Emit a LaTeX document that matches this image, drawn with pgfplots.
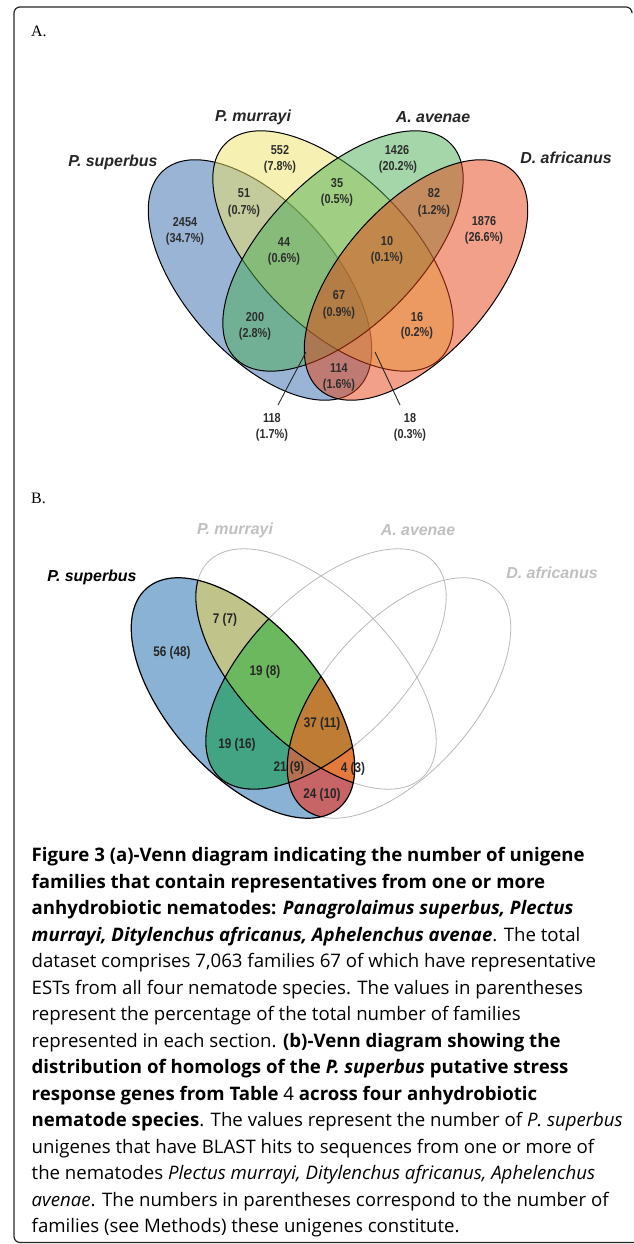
\documentclass[border=0pt]{standalone}
\usepackage{pgfplots}
\pgfplotsset{compat=1.18}
\usepackage{fontspec}
\setmainfont{Open Sans}
\newfontfamily\lsans{Liberation Sans}
\newfontfamily\nfont[FakeStretch=0.84]{Liberation Sans}
\newfontfamily\tserif{Liberation Serif}
\definecolor{bA}{RGB}{53,105,173}
\definecolor{yA}{RGB}{237,227,101}
\definecolor{gA}{RGB}{75,173,85}
\definecolor{rA}{RGB}{229,65,21}
\definecolor{bB}{RGB}{138,178,212}
\definecolor{byB}{RGB}{192,196,138}
\definecolor{bygB}{RGB}{108,184,94}
\definecolor{bgB}{RGB}{66,164,130}
\definecolor{allB}{RGB}{190,124,52}
\definecolor{bgrB}{RGB}{182,112,80}
\definecolor{byrB}{RGB}{228,122,60}
\definecolor{brB}{RGB}{198,100,102}
\definecolor{numgray}{RGB}{45,45,45}
\definecolor{lgray}{RGB}{185,185,185}
\definecolor{labgray}{RGB}{192,192,192}
\begin{document}
\begin{tikzpicture}
\begin{axis}[
  width=633bp, height=1244bp, scale only axis,
  xmin=0, xmax=633, ymin=0, ymax=1244,
  hide axis, clip=false,
]
% ---------- frame ----------
\draw[line width=1.2bp, rounded corners=6bp, black!85] (axis cs:632,1232) -- (axis cs:632,1237) -- (axis cs:14,1237) -- (axis cs:14,1.5) -- (axis cs:640,1.5);
\node[anchor=base west, inner sep=0pt, font=\tserif\fontsize{16}{18}\selectfont] at (axis cs:31,1207) {A.};
\node[anchor=base west, inner sep=0pt, font=\tserif\fontsize{16}{18}\selectfont] at (axis cs:31,740) {B.};

% ---------- Venn A ----------
\filldraw[fill=bA, fill opacity=0.5, draw=black, line width=1bp, rotate around={-48.6:(axis cs:260,964)}] (axis cs:260,964) ellipse [x radius=146bp, y radius=75bp];
\filldraw[fill=yA, fill opacity=0.5, draw=black, line width=1bp, rotate around={-45:(axis cs:333,993)}] (axis cs:333,993) ellipse [x radius=152bp, y radius=76bp];
\filldraw[fill=gA, fill opacity=0.5, draw=black, line width=1bp, rotate around={45:(axis cs:343,993)}] (axis cs:343,993) ellipse [x radius=152bp, y radius=76bp];
\filldraw[fill=rA, fill opacity=0.5, draw=black, line width=1bp, rotate around={48.6:(axis cs:416,964)}] (axis cs:416,964) ellipse [x radius=146bp, y radius=75bp];

\addplot[black!85, line width=0.9bp] coordinates {(306,892) (278,839)};
\addplot[black!85, line width=0.9bp] coordinates {(375,892) (400,839)};

\addplot[only marks, mark=none, point meta=explicit symbolic, nodes near coords,
  nodes near coords style={anchor=center, inner sep=0pt, text=numgray, font=\nfont\bfseries\fontsize{13}{15}\selectfont}]
  table[x=x, y=y, meta=c] {
x y c
185 1022 2454
280 1094 552
397 1094 1426
484 1023 1876
244 1051 51
337 1061 35
434 1051 82
284 1002 44
387 1003 10
339 949 67
255 927 200
417 927 16
339 876 114
272 826 118
410 826 18
};
\addplot[only marks, mark=none, point meta=explicit symbolic, nodes near coords={(\pgfplotspointmeta\%)},
  nodes near coords style={anchor=center, inner sep=0pt, text=numgray, font=\nfont\bfseries\fontsize{13}{15}\selectfont}]
  table[x=x, y=y, meta=p] {
x y p
185 1005 34.7
280 1077 7.8
398 1077 20.2
484 1006 26.6
244 1033 0.7
337 1044 0.5
434 1033 1.2
284 985 0.6
387 986 0.1
339 931 0.9
255 910 2.8
417 911 0.2
339 859 1.6
272 809 1.7
410 809 0.3
};

\node[font=\lsans\bfseries\itshape\fontsize{16}{18}\selectfont, text=black!85] at (axis cs:113,1082) {P. superbus};
\node[font=\lsans\bfseries\itshape\fontsize{16}{18}\selectfont, text=black!85] at (axis cs:253,1127) {P. murrayi};
\node[font=\lsans\bfseries\itshape\fontsize{16}{18}\selectfont, text=black!85] at (axis cs:433,1127) {A. avenae};
\node[font=\lsans\bfseries\itshape\fontsize{16}{18}\selectfont, text=black!85] at (axis cs:566,1086) {D. africanus};

% ---------- Venn B ----------
\draw[lgray, line width=0.8bp, rotate around={-45:(axis cs:316,575)}] (axis cs:316,575) ellipse [x radius=152bp, y radius=76bp];
\draw[lgray, line width=0.8bp, rotate around={45:(axis cs:326,575)}] (axis cs:326,575) ellipse [x radius=152bp, y radius=76bp];
\draw[lgray, line width=0.8bp, rotate around={48.6:(axis cs:399,546)}] (axis cs:399,546) ellipse [x radius=146bp, y radius=75bp];
\begin{scope}
  \clip[rotate around={-48.6:(axis cs:243,546)}] (axis cs:243,546) ellipse [x radius=146bp, y radius=75bp];
  \fill[bB] (axis cs:0,300) rectangle (axis cs:633,800);
  \begin{scope}
    \clip[rotate around={-45:(axis cs:316,575)}] (axis cs:316,575) ellipse [x radius=152bp, y radius=76bp];
    \fill[byB] (axis cs:0,300) rectangle (axis cs:633,800);
  \end{scope}
  \begin{scope}
    \clip[rotate around={45:(axis cs:326,575)}] (axis cs:326,575) ellipse [x radius=152bp, y radius=76bp];
    \fill[bgB] (axis cs:0,300) rectangle (axis cs:633,800);
  \end{scope}
  \begin{scope}
    \clip[rotate around={48.6:(axis cs:399,546)}] (axis cs:399,546) ellipse [x radius=146bp, y radius=75bp];
    \fill[brB] (axis cs:0,300) rectangle (axis cs:633,800);
  \end{scope}
  \begin{scope}
    \clip[rotate around={-45:(axis cs:316,575)}] (axis cs:316,575) ellipse [x radius=152bp, y radius=76bp];
    \clip[rotate around={45:(axis cs:326,575)}] (axis cs:326,575) ellipse [x radius=152bp, y radius=76bp];
    \fill[bygB] (axis cs:0,300) rectangle (axis cs:633,800);
  \end{scope}
  \begin{scope}
    \clip[rotate around={-45:(axis cs:316,575)}] (axis cs:316,575) ellipse [x radius=152bp, y radius=76bp];
    \clip[rotate around={48.6:(axis cs:399,546)}] (axis cs:399,546) ellipse [x radius=146bp, y radius=75bp];
    \fill[byrB] (axis cs:0,300) rectangle (axis cs:633,800);
  \end{scope}
  \begin{scope}
    \clip[rotate around={45:(axis cs:326,575)}] (axis cs:326,575) ellipse [x radius=152bp, y radius=76bp];
    \clip[rotate around={48.6:(axis cs:399,546)}] (axis cs:399,546) ellipse [x radius=146bp, y radius=75bp];
    \fill[bgrB] (axis cs:0,300) rectangle (axis cs:633,800);
  \end{scope}
  \begin{scope}
    \clip[rotate around={-45:(axis cs:316,575)}] (axis cs:316,575) ellipse [x radius=152bp, y radius=76bp];
    \clip[rotate around={45:(axis cs:326,575)}] (axis cs:326,575) ellipse [x radius=152bp, y radius=76bp];
    \clip[rotate around={48.6:(axis cs:399,546)}] (axis cs:399,546) ellipse [x radius=146bp, y radius=75bp];
    \fill[allB] (axis cs:0,300) rectangle (axis cs:633,800);
  \end{scope}
  \draw[black, line width=1.1bp, rotate around={-45:(axis cs:316,575)}] (axis cs:316,575) ellipse [x radius=152bp, y radius=76bp];
  \draw[black, line width=1.1bp, rotate around={45:(axis cs:326,575)}] (axis cs:326,575) ellipse [x radius=152bp, y radius=76bp];
  \draw[black, line width=1.1bp, rotate around={48.6:(axis cs:399,546)}] (axis cs:399,546) ellipse [x radius=146bp, y radius=75bp];
\end{scope}
\draw[black, line width=1.2bp, rotate around={-48.6:(axis cs:243,546)}] (axis cs:243,546) ellipse [x radius=146bp, y radius=75bp];

\addplot[only marks, mark=none, point meta=explicit symbolic,
  visualization depends on={value \thisrow{f}\as\famv},
  nodes near coords={\pgfplotspointmeta\ (\famv)},
  nodes near coords style={anchor=center, inner sep=0pt, text=black!85, font=\nfont\bfseries\fontsize{14}{16}\selectfont}]
  table[x=x, y=y, meta=n] {
x y n f
172 591 56 48
225 624 7 7
265 572 19 8
237 499 19 16
322 520 37 11
289 476 21 9
353 475 4 3
322 449 24 10
};

\node[font=\lsans\bfseries\itshape\fontsize{16}{18}\selectfont, text=black] at (axis cs:92,667) {P. superbus};
\node[font=\lsans\bfseries\itshape\fontsize{16}{18}\selectfont, text=labgray] at (axis cs:235,714) {P. murrayi};
\node[font=\lsans\bfseries\itshape\fontsize{16}{18}\selectfont, text=labgray] at (axis cs:418,714) {A. avenae};
\node[font=\lsans\bfseries\itshape\fontsize{16}{18}\selectfont, text=labgray] at (axis cs:552,671) {D. africanus};

% ---------- caption ----------
\begin{scope}[every node/.style={anchor=base west, inner sep=0pt, font=\fontsize{18.7}{22}\selectfont}]
\node at (axis cs:31.5,382) {\textbf{Figure 3 (a)-Venn diagram indicating the number of unigene}};
\node at (axis cs:31.5,355.5) {\textbf{families that contain representatives from one or more}};
\node at (axis cs:31.5,329) {\textbf{anhydrobiotic nematodes: \textit{Panagrolaimus superbus, Plectus}}};
\node at (axis cs:31.5,302.5) {\textbf{\textit{murrayi, Ditylenchus africanus, Aphelenchus avenae}}. The total};
\node at (axis cs:31.5,276) {dataset comprises 7,063 families 67 of which have representative};
\node at (axis cs:31.5,249.5) {ESTs from all four nematode species. The values in parentheses};
\node at (axis cs:31.5,223) {represent the percentage of the total number of families};
\node at (axis cs:31.5,196.5) {represented in each section. \textbf{(b)-Venn diagram showing the}};
\node at (axis cs:31.5,170) {\textbf{distribution of homologs of the \textit{P. superbus} putative stress}};
\node at (axis cs:31.5,143.5) {\textbf{response genes from Table} 4 \textbf{across four anhydrobiotic}};
\node at (axis cs:31.5,117) {\textbf{nematode species}. The values represent the number of \textit{P. superbus}};
\node at (axis cs:31.5,90.5) {unigenes that have BLAST hits to sequences from one or more of};
\node at (axis cs:31.5,64) {the nematodes \textit{Plectus murrayi, Ditylenchus africanus, Aphelenchus}};
\node at (axis cs:31.5,37.5) {\textit{avenae}. The numbers in parentheses correspond to the number of};
\node at (axis cs:31.5,11) {families (see Methods) these unigenes constitute.};
\end{scope}
\end{axis}
\pgfresetboundingbox
\path (current axis.south west) rectangle (current axis.north east);
\end{tikzpicture}
\end{document}
